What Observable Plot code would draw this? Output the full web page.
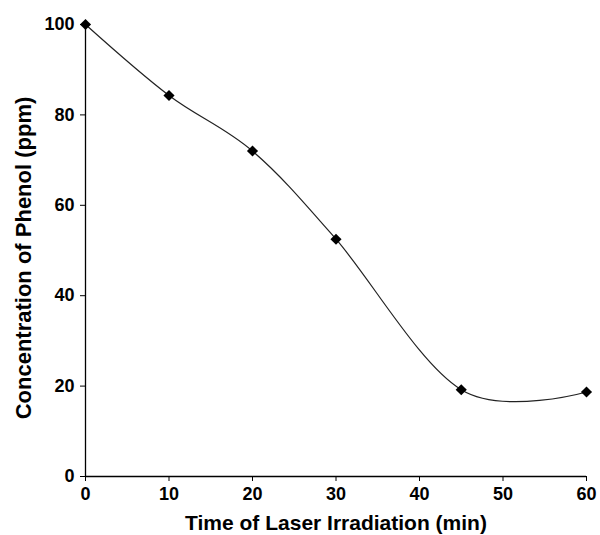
<!DOCTYPE html>
<html>
<head>
<meta charset="utf-8">
<script src="https://cdn.jsdelivr.net/npm/d3@7"></script>
<script src="https://cdn.jsdelivr.net/npm/@observablehq/plot@0.6"></script>
<style>
  html, body { margin: 0; padding: 0; background: #fff; }
  #chart svg { display: block; }
</style>
</head>
<body>
<div id="chart"></div>
<script>
const times = [0, 10, 20, 30, 45, 60];
const concentration = [100, 84.3, 72, 52.5, 19.2, 18.7];
const xTicks = [0, 10, 20, 30, 40, 50, 60];
const yTicks = [0, 20, 40, 60, 80, 100];

const data = times.map((t, i) => ({t, c: concentration[i]}));

const chart = Plot.plot({
  width: 600,
  height: 535,
  marginLeft: 85,
  marginRight: 14,
  marginTop: 24,
  marginBottom: 59,
  style: {fontFamily: "'Liberation Sans', Arial, sans-serif", fontWeight: "bold", fontSize: "18px", color: "#000", background: "#fff"},
  x: {domain: [0, 60], ticks: xTicks, label: null},
  y: {domain: [0, 100], ticks: yTicks, label: null},
  marks: [
    Plot.axisX({ticks: xTicks, tickSize: 5, tickPadding: 6, fontSize: 18, fontWeight: "bold", label: null}),
    Plot.axisY({ticks: yTicks, tickSize: 5, tickPadding: 6, fontSize: 18, fontWeight: "bold", label: null}),
    Plot.ruleX([0], {stroke: "#000", strokeWidth: 1.3}),
    Plot.ruleY([0], {stroke: "#000", strokeWidth: 1.3}),
    Plot.line(data, {x: "t", y: "c", curve: "cardinal", tension: 0, stroke: "#222", strokeWidth: 1.2}),
    Plot.dot(data, {x: "t", y: "c", symbol: "diamond2", r: 5, fill: "#000", stroke: "none"}),
    Plot.text(["Time of Laser Irradiation (min)"], {frameAnchor: "bottom", lineAnchor: "middle", dy: 47, fontSize: 21, fontWeight: "bold", textAnchor: "middle"}),
    Plot.text(["Concentration of Phenol (ppm)"], {frameAnchor: "left", lineAnchor: "middle", dx: -62, dy: 7.5, rotate: -90, fontSize: 22, fontWeight: "bold", textAnchor: "middle"})
  ]
});
document.getElementById("chart").append(chart);
</script>
</body>
</html>
